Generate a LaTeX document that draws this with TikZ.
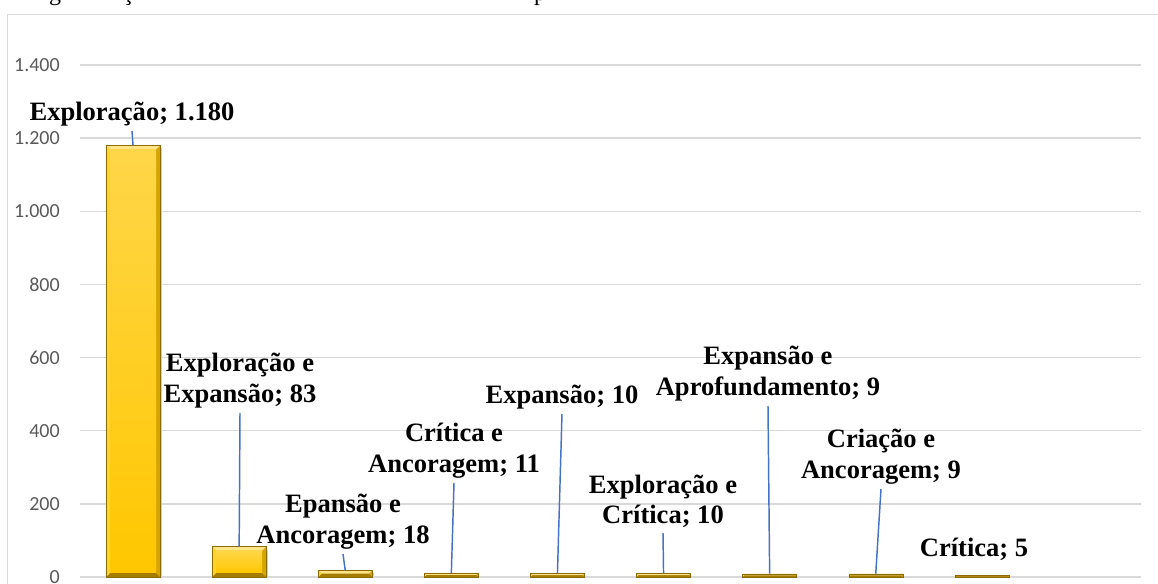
\documentclass[tikz,border=0pt]{standalone}
\usepackage{fontspec}
\setmainfont{Liberation Serif}
\newfontfamily\axisfont{Carlito}
\usetikzlibrary{calc}

\definecolor{gridgray}{HTML}{D9D9D9}
\definecolor{ticktext}{HTML}{595959}
\definecolor{leaderblue}{HTML}{4472C4}
\definecolor{goldface}{HTML}{FFD648}
\definecolor{goldlow}{HTML}{FFC700}
\definecolor{goldtop}{HTML}{FFE488}
\definecolor{goldleft}{HTML}{FFD22E}
\definecolor{goldright}{HTML}{D6A500}
\definecolor{goldbottom}{HTML}{A47D00}
\definecolor{goldedge}{HTML}{8C6C00}

\tikzset{
  gridline/.style={gridgray,line width=1.1pt},
  ticklabel/.style={ticktext,font=\axisfont\fontsize{15}{18}\selectfont,anchor=east,inner sep=0pt},
  datalabel/.style={font=\bfseries\fontsize{19.9}{22.9}\selectfont,align=center,anchor=south,inner sep=3.5pt},
  leader/.style={leaderblue,line width=1.1pt},
}

% bevelled bar: name, centre x, value
\newcommand{\goldbar}[3]{%
  \pgfmathsetmacro\barT{577-#3/1400*512}%
  \pgfmathsetmacro\barL{#2-27}%
  \pgfmathsetmacro\barR{#2+27}%
  \pgfmathsetmacro\bev{min(4,(577-\barT)/2)}%
  \fill[black!20] (\barR,\barT+3) rectangle (\barR+1.5,577);
  \fill[goldbottom] (\barL,\barT) rectangle (\barR,577);
  \fill[goldleft] (\barL,\barT) -- (\barL+\bev,\barT+\bev) -- (\barL+\bev,577-\bev) -- (\barL,577) -- cycle;
  \fill[goldright] (\barR,\barT) -- (\barR-\bev,\barT+\bev) -- (\barR-\bev,577-\bev) -- (\barR,577) -- cycle;
  \fill[goldtop] (\barL,\barT) -- (\barR,\barT) -- (\barR-\bev,\barT+\bev) -- (\barL+\bev,\barT+\bev) -- cycle;
  \shade[top color=goldface,bottom color=goldlow] (\barL+\bev,\barT+\bev) rectangle (\barR-\bev,577-\bev);
  \draw[goldedge,line width=0.3pt] (\barL,\barT) rectangle (\barR,577);
  \coordinate (#1) at (#2,\barT);
}

\begin{document}
\begin{tikzpicture}[x=0.75pt,y=-0.75pt]
\useasboundingbox (0,0) rectangle (1158,584);
%caption of the page above, cut off
\begin{scope}
\clip (0,0) rectangle (1158,12);
\node[font=\fontsize{18}{20}\selectfont,anchor=base,inner sep=0pt] (cap1) at (55,0.3) {g};
\node[font=\fontsize{18}{20}\selectfont,anchor=base,inner sep=0pt] (cap2) at (128,0.3) {ç};
\node[font=\fontsize{18}{20}\selectfont,anchor=base,inner sep=0pt] (cap3) at (540,0.3) {p};
\end{scope}
\draw[gridgray,line width=1pt] (7.5,14.5) rectangle (1180,600);
\foreach \v/\t in {0/0,200/200,400/400,600/600,800/800,1000/1.000,1200/1.200,1400/1.400}{
  \draw[gridline] (80,577-\v/1400*512) -- (1141,577-\v/1400*512);
  \node[ticklabel] (tick\v) at (60,577-\v/1400*512) {\t};
}
%bars
\goldbar{b1}{133.05}{1180}
\goldbar{b2}{239.15}{83}
\goldbar{b3}{345.25}{18}
\goldbar{b4}{451.35}{11}
\goldbar{b5}{557.45}{10}
\goldbar{b6}{663.55}{10}
\goldbar{b7}{769.65}{9}
\goldbar{b8}{875.75}{9}
\goldbar{b9}{981.85}{5}
%labels
\node[datalabel] (l1) at (132,131) {Exploração; 1.180};
\node[datalabel] (l2) at (240,413) {Exploração e\\Expansão; 83};
\node[datalabel] (l3) at (343,554) {Epansão e\\Ancoragem; 18};
\node[datalabel] (l4) at (454,483) {Crítica e\\Ancoragem; 11};
\node[datalabel] (l5) at (562,414) {Expansão; 10};
\node[datalabel] (l6) at (663,533) {Exploração e\\Crítica; 10};
\node[datalabel] (l7) at (768,406) {Expansão e\\Aprofundamento; 9};
\node[datalabel] (l8) at (881,489) {Criação e\\Ancoragem; 9};
\node[datalabel] (l9) at (974,566) {Crítica; 5};
\draw[leader] (l1.south) -- (b1);
\draw[leader] (l2.south) -- (b2);
\draw[leader] (l3.south) -- (b3);
\draw[leader] (l4.south) -- (b4);
\draw[leader] (l5.south) -- (b5);
\draw[leader] (l6.south) -- (b6);
\draw[leader] (l7.south) -- (b7);
\draw[leader] (l8.south) -- (b8);
\end{tikzpicture}
\end{document}
